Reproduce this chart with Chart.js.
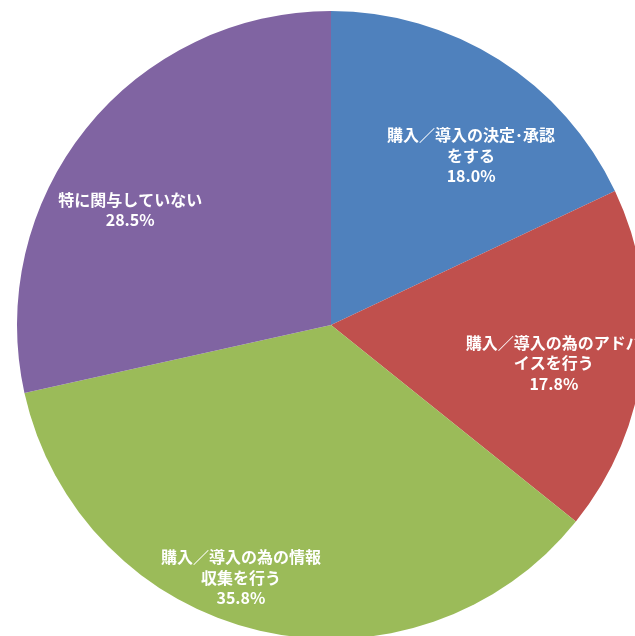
<!DOCTYPE html>
<html>
<head>
<meta charset="utf-8">
<script src="https://cdn.jsdelivr.net/npm/chart.js@4/dist/chart.umd.min.js"></script>
<style>
  html, body { margin: 0; padding: 0; background: #ffffff; overflow: hidden; width: 635px; height: 636px; }
  #wrap { position: absolute; left: 0; top: 0; width: 662px; height: 650px; }
</style>
</head>
<body>
<div id="wrap"><canvas id="c" width="662" height="650"></canvas></div>
<script>
const categories = [
  "購入／導入の決定･承認をする",
  "購入／導入の為のアドバイスを行う",
  "購入／導入の為の情報収集を行う",
  "特に関与していない"
];
const labelLines = [
  ["購入／導入の決定･承認", "をする"],
  ["購入／導入の為のアドバ", "イスを行う"],
  ["購入／導入の為の情報", "収集を行う"],
  ["特に関与していない"]
];
const values = [18.0, 17.8, 35.8, 28.5];
const colors = ["#4F81BD", "#C0504D", "#9BBB59", "#8064A2"];

const labelPlugin = {
  id: 'sliceLabels',
  afterDatasetsDraw(chart, args, opts) {
    const ctx = chart.ctx;
    const meta = chart.getDatasetMeta(0);
    ctx.save();
    ctx.fillStyle = opts.color;
    ctx.font = opts.font;
    ctx.textAlign = 'center';
    ctx.textBaseline = 'middle';
    meta.data.forEach((arc, i) => {
      const p = opts.placement[i];
      const a = (p.angle - 90) * Math.PI / 180;
      const r = arc.outerRadius * p.r;
      const cx = arc.x + Math.cos(a) * r;
      const cy = arc.y + Math.sin(a) * r;
      const lines = labelLines[i].concat([values[i].toFixed(1) + '%']);
      const lh = opts.lineHeight;
      const top = cy - (lines.length - 1) * lh / 2;
      lines.forEach((t, k) => ctx.fillText(t, cx, top + k * lh));
    });
    ctx.restore();
  }
};

new Chart(document.getElementById('c'), {
  type: 'pie',
  data: {
    labels: categories,
    datasets: [{
      data: values,
      backgroundColor: colors,
      borderWidth: 0
    }]
  },
  options: {
    responsive: false,
    animation: false,
    devicePixelRatio: 1,
    layout: { padding: { left: 17, right: 17, top: 11, bottom: 11 } },
    plugins: {
      legend: { display: false },
      tooltip: { enabled: false },
      title: { display: false },
      sliceLabels: {
        color: '#ffffff',
        font: 'bold 16px "Noto Sans CJK JP", "Noto Sans", sans-serif',
        lineHeight: 20.5,
        placement: [
          { angle: 39.6, r: 0.70 },
          { angle: 99.7, r: 0.72 },
          { angle: 199.6, r: 0.855 },
          { angle: 299.8, r: 0.737 }
        ]
      }
    }
  },
  plugins: [labelPlugin]
});
</script>
</body>
</html>
